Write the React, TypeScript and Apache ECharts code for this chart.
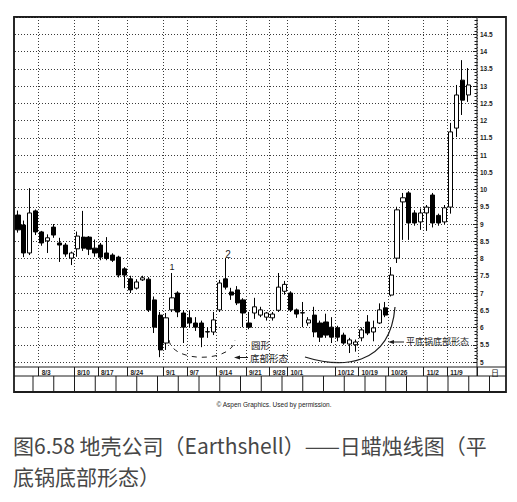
import React, { useEffect, useRef } from 'react';
import * as echarts from 'echarts';

// Daily OHLC (Earthshell)
const opens = [
  9.26, 8.97, 8.16, 9.38, 8.77, 8.51, 8.91, 8.45, 8.39, 8.01,
  8.28, 8.62, 8.62, 8.3, 8.39, 8.16, 8.1, 8.04, 7.7, 7.41,
  7.14, 7.38, 7.4, 6.8, 6.36, 5.55, 6.51, 7.0, 6.42, 6.28,
  6.13, 6.13, 5.87, 5.87, 6.51, 7.41, 7.03, 7.09, 6.8, 6.13,
  6.42, 6.36, 6.3, 6.28, 6.5, 7.05, 7.0, 6.51, 6.42, 6.13,
  6.36, 6.13, 6.16, 6.01, 5.99, 5.78, 5.52, 5.5, 5.7, 6.16,
  5.87, 6.13, 6.57, 6.94, 8.01, 9.64, 9.9, 9.32, 9.06, 9.32,
  9.84, 9.25, 9.06, 9.49, 11.78, 13.17, 12.74,
];
const closes = [
  8.83, 8.16, 9.32, 8.77, 8.45, 8.6, 8.68, 8.39, 8.13, 8.16,
  8.65, 8.3, 8.27, 8.16, 8.04, 8.0, 7.95, 7.52, 7.52, 7.09,
  7.32, 7.44, 6.51, 6.01, 5.35, 6.28, 6.86, 6.45, 6.01, 6.13,
  6.01, 5.72, 5.88, 6.22, 7.29, 7.17, 6.94, 6.71, 6.42, 6.01,
  6.6, 6.51, 6.42, 6.39, 7.17, 7.25, 6.51, 6.39, 6.43, 6.22,
  5.87, 5.72, 5.78, 5.72, 5.72, 5.55, 5.64, 5.58, 5.93, 5.84,
  5.99, 6.51, 6.36, 7.52, 9.41, 9.76, 9.03, 9.03, 9.32, 9.49,
  9.03, 9.03, 9.47, 11.67, 12.74, 12.59, 13.03,
];
const lows = [
  8.75, 8.04, 8.1, 8.68, 8.37, 8.16, 8.6, 7.9, 8.05, 7.81,
  8.05, 8.22, 8.1, 8.05, 7.95, 7.95, 7.9, 7.45, 7.14, 7.0,
  7.1, 7.35, 6.45, 5.84, 5.14, 5.35, 6.45, 6.3, 5.55, 6.0,
  5.9, 5.43, 5.7, 5.78, 6.45, 7.1, 6.8, 6.65, 6.01, 5.95,
  6.25, 6.3, 6.2, 6.2, 6.45, 6.95, 6.45, 6.28, 6.01, 6.05,
  5.72, 5.58, 5.7, 5.55, 5.6, 5.5, 5.26, 5.3, 5.6, 5.78,
  5.6, 6.1, 6.3, 6.9, 7.87, 8.54, 8.54, 8.95, 8.83, 8.8,
  8.9, 8.95, 9.0, 9.3, 11.52, 12.16, 12.54,
];
const highs = [
  9.39, 9.1, 10.04, 9.42, 8.8, 8.7, 9.0, 8.6, 8.45, 8.2,
  8.78, 9.38, 8.65, 8.55, 8.45, 8.62, 8.15, 8.08, 7.75, 7.5,
  7.4, 7.5, 7.46, 6.9, 6.45, 6.42, 7.58, 7.05, 6.5, 6.5,
  6.3, 6.2, 6.01, 6.45, 7.38, 8.01, 7.15, 7.2, 6.85, 6.45,
  6.86, 6.6, 6.45, 6.45, 7.58, 7.35, 7.05, 6.55, 6.74, 6.3,
  6.6, 6.2, 6.4, 6.3, 6.05, 5.85, 5.7, 5.65, 6.0, 6.36,
  6.2, 6.7, 6.74, 7.75, 9.5, 9.9, 9.95, 9.4, 9.45, 9.55,
  9.9, 9.3, 9.55, 11.93, 13.03, 13.75, 13.52,
];
const dayCount = 78;
const weekLabels = ['8/3', '8/10', '8/17', '8/24', '9/1', '9/7', '9/14', '9/21', '9/28', '10/1', '10/12', '10/19', '10/26', '11/2', '11/9'];
const weekIndex = [4, 10, 14, 19, 25, 29, 34, 39, 43, 46, 54, 58, 63, 69, 73];

const INK = '#1c1c1c';

export default function App() {
  const ref = useRef<HTMLDivElement>(null);
  useEffect(() => {
    const chart = echarts.init(ref.current!, null, { renderer: 'svg' });
    const categories = Array.from({ length: dayCount }, (_, i) => 'd' + i);
    const labelAt = new Map<number, string>(weekIndex.map((idx, k) => [idx, weekLabels[k]]));
    const isWeek = (i: number) => labelAt.has(i);
    const ohlc = opens.map((o, i) => [o, closes[i], lows[i], highs[i]]);

    const boxLines: any[] = [];
    for (let x = 33; x < 506; x += 20.75) {
      boxLines.push({ type: 'line', shape: { x1: x, y1: 376, x2: x, y2: 392 }, style: { stroke: INK, lineWidth: 1 } });
    }

    const graphic: any[] = [
      { type: 'rect', shape: { x: 14, y: 17, width: 463, height: 350 }, style: { fill: 'none', stroke: INK, lineWidth: 1 } },
      { type: 'rect', shape: { x: 14, y: 17, width: 492, height: 375 }, style: { fill: 'none', stroke: INK, lineWidth: 1.8 } },
      { type: 'line', shape: { x1: 14, y1: 376, x2: 506, y2: 376 }, style: { stroke: INK, lineWidth: 1 } },
      { type: 'line', shape: { x1: 477, y1: 367, x2: 506, y2: 367 }, style: { stroke: INK, lineWidth: 1 } },
      { type: 'line', shape: { x1: 477, y1: 367, x2: 477, y2: 376 }, style: { stroke: INK, lineWidth: 1 } },
      ...boxLines,
      { type: 'text', x: 495, y: 372, style: { text: '日', fontSize: 8, fill: INK, align: 'center', verticalAlign: 'middle', fontFamily: 'Noto Sans CJK SC' } },
      // pattern 1/2 markers
      { type: 'text', x: 172, y: 267, style: { text: '1', fontSize: 9, fill: INK, align: 'center', verticalAlign: 'middle', fontFamily: 'Liberation Sans' } },
      { type: 'text', x: 228, y: 254, style: { text: '2', fontSize: 10, fill: INK, align: 'center', verticalAlign: 'middle', fontFamily: 'Liberation Sans' } },
      // rounded bottom (dashed)
      { type: 'bezierCurve', shape: { x1: 169, y1: 340, cpx1: 172, cpy1: 363, cpx2: 232, cpy2: 363, x2: 235, y2: 340 }, style: { stroke: INK, lineWidth: 1, lineDash: [5, 5], fill: 'none' } },
      { type: 'line', shape: { x1: 237, y1: 357.5, x2: 248, y2: 357.5 }, style: { stroke: INK, lineWidth: 1 } },
      { type: 'polygon', shape: { points: [[234, 357.5], [240, 355.5], [240, 359.5]] }, style: { fill: INK } },
      { type: 'text', x: 251, y: 345, style: { text: '圆形', fontSize: 9.5, fill: INK, verticalAlign: 'middle', fontFamily: 'Noto Sans CJK SC' } },
      { type: 'text', x: 250, y: 357.5, style: { text: '底部形态', fontSize: 9.5, fill: INK, verticalAlign: 'middle', fontFamily: 'Noto Sans CJK SC' } },
      // flat-bottomed pan (solid)
      { type: 'bezierCurve', shape: { x1: 305, y1: 357, cpx1: 340, cpy1: 368, cpx2: 390, cpy2: 368, x2: 395, y2: 307 }, style: { stroke: INK, lineWidth: 1.2, fill: 'none' } },
      { type: 'line', shape: { x1: 392, y1: 342, x2: 404, y2: 342 }, style: { stroke: INK, lineWidth: 1 } },
      { type: 'polygon', shape: { points: [[388, 342], [394, 340], [394, 344]] }, style: { fill: INK } },
      { type: 'text', x: 406, y: 341, style: { text: '平底锅底部形态', fontSize: 9, fill: INK, verticalAlign: 'middle', fontFamily: 'Noto Sans CJK SC' } },
      // credit and caption
      { type: 'text', x: 274, y: 404, style: { text: '© Aspen Graphics. Used by permission.', fontSize: 6.5, fill: '#222', align: 'center', verticalAlign: 'middle', fontFamily: 'Liberation Sans' } },
      { type: 'text', x: 13, y: 445, style: { text: '图6.58 地壳公司（Earthshell）——日蜡烛线图（平', fontSize: 21, fill: '#474747', verticalAlign: 'middle', fontFamily: 'Noto Sans CJK SC' } },
      { type: 'text', x: 13, y: 476, style: { text: '底锅底部形态）', fontSize: 21, fill: '#474747', verticalAlign: 'middle', fontFamily: 'Noto Sans CJK SC' } },
    ];

    chart.setOption({
      animation: false,
      backgroundColor: '#fff',
      grid: { left: 15, right: 40, top: 17, bottom: 140 },
      xAxis: {
        type: 'category',
        data: categories,
        boundaryGap: true,
        offset: 5,
        axisLine: { show: false },
        axisTick: { show: true, interval: (i: number) => isWeek(i), length: 9, lineStyle: { color: INK, width: 1 } },
        axisLabel: {
          interval: (i: number) => isWeek(i),
          formatter: (_v: string, i: number) => labelAt.get(i) || '',
          align: 'left',
          margin: 2,
          fontSize: 6.5,
          fontWeight: 'bold',
          color: INK,
          fontFamily: 'Liberation Sans',
        },
        splitLine: { show: true, interval: (i: number) => isWeek(i), lineStyle: { color: '#3a3a3a', type: [1, 2], width: 1 } },
      },
      yAxis: {
        type: 'value',
        position: 'right',
        min: 5,
        max: 15,
        interval: 0.5,
        axisLine: { show: false },
        axisTick: { show: true, inside: true, length: 4, lineStyle: { color: INK } },
        minorTick: { show: true, splitNumber: 5, length: 2.5, lineStyle: { color: INK } },
        splitLine: { show: true, lineStyle: { color: '#3a3a3a', type: [1, 2], width: 1 } },
        axisLabel: {
          formatter: (v: number) => (v > 14.75 ? '' : String(v)),
          margin: 3,
          fontSize: 6.5,
          fontWeight: 'bold',
          color: INK,
          fontFamily: 'Liberation Sans',
        },
      },
      series: [
        {
          type: 'candlestick',
          data: ohlc,
          barWidth: 4.6,
          itemStyle: { color: '#fff', color0: '#000', borderColor: '#000', borderColor0: '#000', borderWidth: 1 },
        },
      ],
      graphic,
    });
    return () => chart.dispose();
  }, []);
  return <div ref={ref} style={{ position: 'absolute', left: 0, top: 0, width: 517, height: 502, background: '#fff' }} />;
}
